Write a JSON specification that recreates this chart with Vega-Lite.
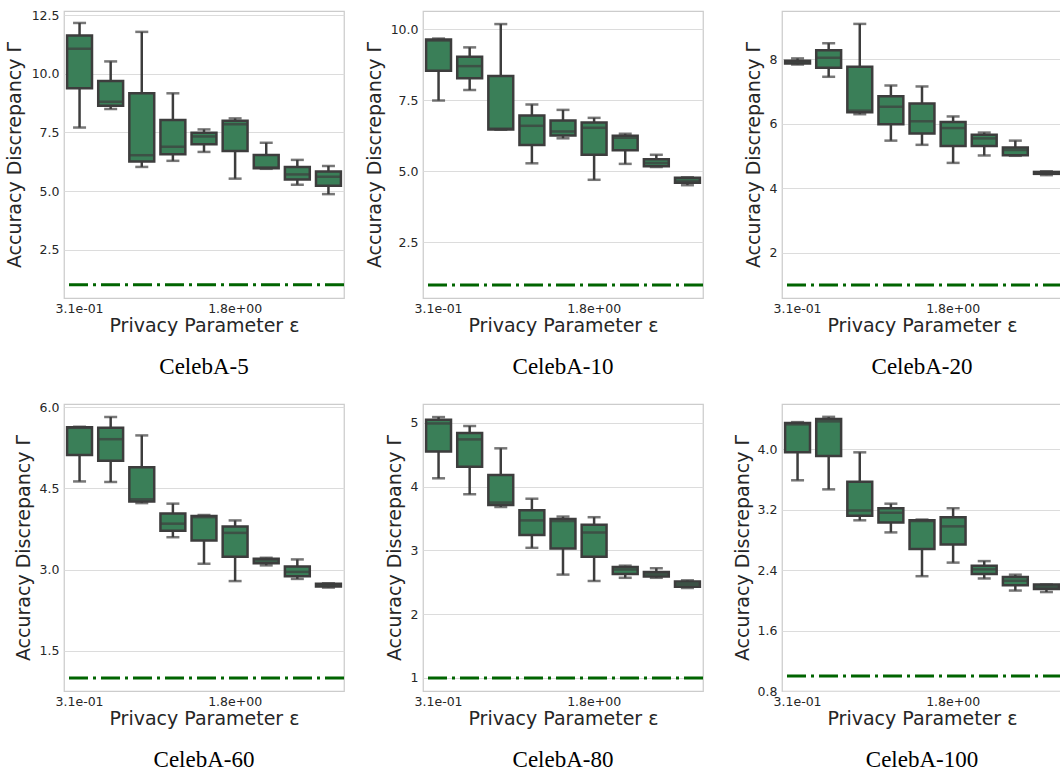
{
  "$schema": "https://vega.github.io/schema/vega-lite/v6.json",
  "padding": {"left": 4, "top": 8, "right": 0, "bottom": 5},
  "autosize": {"type": "pad"},
  "background": "white",
  "datasets": {
    "boxes": [
      {"panel": "CelebA-5", "eps": "3.1e-01", "lower": 7.71, "q1": 9.39, "median": 11.07, "q3": 11.63, "upper": 12.17},
      {"panel": "CelebA-5", "eps": "4.4e-01", "lower": 8.50, "q1": 8.64, "median": 8.81, "q3": 9.69, "upper": 10.53},
      {"panel": "CelebA-5", "eps": "6.3e-01", "lower": 6.03, "q1": 6.26, "median": 6.53, "q3": 9.17, "upper": 11.79},
      {"panel": "CelebA-5", "eps": "8.9e-01", "lower": 6.29, "q1": 6.57, "median": 6.89, "q3": 8.03, "upper": 9.17},
      {"panel": "CelebA-5", "eps": "1.3e+00", "lower": 6.67, "q1": 7.00, "median": 7.33, "q3": 7.49, "upper": 7.63},
      {"panel": "CelebA-5", "eps": "1.8e+00", "lower": 5.53, "q1": 6.71, "median": 7.85, "q3": 8.00, "upper": 8.10},
      {"panel": "CelebA-5", "eps": "2.6e+00", "lower": 5.95, "q1": 5.97, "median": 6.01, "q3": 6.54, "upper": 7.06},
      {"panel": "CelebA-5", "eps": "3.6e+00", "lower": 5.27, "q1": 5.49, "median": 5.71, "q3": 6.03, "upper": 6.33},
      {"panel": "CelebA-5", "eps": "5.2e+00", "lower": 4.87, "q1": 5.23, "median": 5.61, "q3": 5.83, "upper": 6.07},

      {"panel": "CelebA-10", "eps": "3.1e-01", "lower": 7.49, "q1": 8.54, "median": 9.60, "q3": 9.64, "upper": 9.67},
      {"panel": "CelebA-10", "eps": "4.4e-01", "lower": 7.86, "q1": 8.27, "median": 8.70, "q3": 9.03, "upper": 9.36},
      {"panel": "CelebA-10", "eps": "6.3e-01", "lower": 6.46, "q1": 6.47, "median": 6.50, "q3": 8.35, "upper": 10.18},
      {"panel": "CelebA-10", "eps": "8.9e-01", "lower": 5.28, "q1": 5.92, "median": 6.60, "q3": 6.96, "upper": 7.35},
      {"panel": "CelebA-10", "eps": "1.3e+00", "lower": 6.16, "q1": 6.26, "median": 6.40, "q3": 6.79, "upper": 7.16},
      {"panel": "CelebA-10", "eps": "1.8e+00", "lower": 4.70, "q1": 5.58, "median": 6.53, "q3": 6.72, "upper": 6.88},
      {"panel": "CelebA-10", "eps": "2.6e+00", "lower": 5.26, "q1": 5.74, "median": 6.18, "q3": 6.25, "upper": 6.32},
      {"panel": "CelebA-10", "eps": "3.6e+00", "lower": 5.15, "q1": 5.18, "median": 5.29, "q3": 5.42, "upper": 5.58},
      {"panel": "CelebA-10", "eps": "5.2e+00", "lower": 4.51, "q1": 4.60, "median": 4.67, "q3": 4.77, "upper": 4.79},

      {"panel": "CelebA-20", "eps": "3.1e-01", "lower": 7.84, "q1": 7.87, "median": 7.91, "q3": 7.96, "upper": 8.03},
      {"panel": "CelebA-20", "eps": "4.4e-01", "lower": 7.46, "q1": 7.74, "median": 8.05, "q3": 8.28, "upper": 8.50},
      {"panel": "CelebA-20", "eps": "6.3e-01", "lower": 6.30, "q1": 6.36, "median": 6.41, "q3": 7.77, "upper": 9.10},
      {"panel": "CelebA-20", "eps": "8.9e-01", "lower": 5.48, "q1": 5.99, "median": 6.53, "q3": 6.86, "upper": 7.19},
      {"panel": "CelebA-20", "eps": "1.3e+00", "lower": 5.35, "q1": 5.70, "median": 6.08, "q3": 6.63, "upper": 7.16},
      {"panel": "CelebA-20", "eps": "1.8e+00", "lower": 4.79, "q1": 5.31, "median": 5.87, "q3": 6.06, "upper": 6.23},
      {"panel": "CelebA-20", "eps": "2.6e+00", "lower": 5.02, "q1": 5.31, "median": 5.55, "q3": 5.66, "upper": 5.73},
      {"panel": "CelebA-20", "eps": "3.6e+00", "lower": 5.01, "q1": 5.03, "median": 5.19, "q3": 5.27, "upper": 5.48},
      {"panel": "CelebA-20", "eps": "5.2e+00", "lower": 4.41, "q1": 4.45, "median": 4.48, "q3": 4.51, "upper": 4.53},

      {"panel": "CelebA-60", "eps": "3.1e-01", "lower": 4.63, "q1": 5.12, "median": 5.62, "q3": 5.63, "upper": 5.64},
      {"panel": "CelebA-60", "eps": "4.4e-01", "lower": 4.62, "q1": 5.01, "median": 5.41, "q3": 5.62, "upper": 5.82},
      {"panel": "CelebA-60", "eps": "6.3e-01", "lower": 4.23, "q1": 4.26, "median": 4.30, "q3": 4.89, "upper": 5.48},
      {"panel": "CelebA-60", "eps": "8.9e-01", "lower": 3.60, "q1": 3.72, "median": 3.85, "q3": 4.04, "upper": 4.22},
      {"panel": "CelebA-60", "eps": "1.3e+00", "lower": 3.11, "q1": 3.54, "median": 3.97, "q3": 3.99, "upper": 4.01},
      {"panel": "CelebA-60", "eps": "1.8e+00", "lower": 2.79, "q1": 3.24, "median": 3.68, "q3": 3.80, "upper": 3.91},
      {"panel": "CelebA-60", "eps": "2.6e+00", "lower": 3.08, "q1": 3.12, "median": 3.17, "q3": 3.20, "upper": 3.22},
      {"panel": "CelebA-60", "eps": "3.6e+00", "lower": 2.83, "q1": 2.88, "median": 2.96, "q3": 3.06, "upper": 3.19},
      {"panel": "CelebA-60", "eps": "5.2e+00", "lower": 2.67, "q1": 2.69, "median": 2.72, "q3": 2.74, "upper": 2.75},

      {"panel": "CelebA-80", "eps": "3.1e-01", "lower": 4.13, "q1": 4.55, "median": 4.99, "q3": 5.05, "upper": 5.09},
      {"panel": "CelebA-80", "eps": "4.4e-01", "lower": 3.88, "q1": 4.31, "median": 4.74, "q3": 4.84, "upper": 4.95},
      {"panel": "CelebA-80", "eps": "6.3e-01", "lower": 3.68, "q1": 3.71, "median": 3.75, "q3": 4.18, "upper": 4.60},
      {"panel": "CelebA-80", "eps": "8.9e-01", "lower": 3.04, "q1": 3.24, "median": 3.47, "q3": 3.63, "upper": 3.81},
      {"panel": "CelebA-80", "eps": "1.3e+00", "lower": 2.62, "q1": 3.03, "median": 3.46, "q3": 3.49, "upper": 3.53},
      {"panel": "CelebA-80", "eps": "1.8e+00", "lower": 2.52, "q1": 2.90, "median": 3.28, "q3": 3.40, "upper": 3.52},
      {"panel": "CelebA-80", "eps": "2.6e+00", "lower": 2.57, "q1": 2.63, "median": 2.70, "q3": 2.74, "upper": 2.76},
      {"panel": "CelebA-80", "eps": "3.6e+00", "lower": 2.57, "q1": 2.59, "median": 2.63, "q3": 2.66, "upper": 2.72},
      {"panel": "CelebA-80", "eps": "5.2e+00", "lower": 2.41, "q1": 2.43, "median": 2.47, "q3": 2.51, "upper": 2.53},

      {"panel": "CelebA-100", "eps": "3.1e-01", "lower": 3.59, "q1": 3.96, "median": 4.33, "q3": 4.35, "upper": 4.36},
      {"panel": "CelebA-100", "eps": "4.4e-01", "lower": 3.47, "q1": 3.91, "median": 4.37, "q3": 4.40, "upper": 4.43},
      {"panel": "CelebA-100", "eps": "6.3e-01", "lower": 3.06, "q1": 3.12, "median": 3.19, "q3": 3.57, "upper": 3.96},
      {"panel": "CelebA-100", "eps": "8.9e-01", "lower": 2.90, "q1": 3.03, "median": 3.16, "q3": 3.22, "upper": 3.28},
      {"panel": "CelebA-100", "eps": "1.3e+00", "lower": 2.32, "q1": 2.68, "median": 3.05, "q3": 3.06, "upper": 3.07},
      {"panel": "CelebA-100", "eps": "1.8e+00", "lower": 2.50, "q1": 2.74, "median": 2.98, "q3": 3.10, "upper": 3.22},
      {"panel": "CelebA-100", "eps": "2.6e+00", "lower": 2.29, "q1": 2.35, "median": 2.41, "q3": 2.46, "upper": 2.52},
      {"panel": "CelebA-100", "eps": "3.6e+00", "lower": 2.13, "q1": 2.20, "median": 2.26, "q3": 2.31, "upper": 2.34},
      {"panel": "CelebA-100", "eps": "5.2e+00", "lower": 2.11, "q1": 2.15, "median": 2.18, "q3": 2.21, "upper": 2.21}
    ],
    "reference": [{"ref": 1}]
  },
  "columns": 3,
  "spacing": {"row": 106, "column": 79},
  "bounds": "flush",
  "concat": [
    {
      "width": 280, "height": 287,
      "title": {"text": "CelebA-5", "orient": "bottom"},
      "layer": [
        {
          "data": {"name": "boxes"},
          "transform": [{"filter": "datum.panel === 'CelebA-5'"}],
          "encoding": {
            "x": {"field": "eps", "type": "nominal", "sort": null, "title": "Privacy Parameter ε",
                  "scale": {"paddingInner": 0, "paddingOuter": 0},
                  "axis": {"values": ["3.1e-01", "1.8e+00"]}}
          },
          "layer": [
            {"mark": {"type": "rule", "color": "#3d3d3d", "strokeWidth": 2.5},
             "encoding": {"y": {"field": "lower", "type": "quantitative", "title": "Accuracy Discrepancy Γ",
                                "scale": {"domain": [0.44, 12.68], "zero": false, "nice": false},
                                "axis": {"values": [2.5, 5, 7.5, 10, 12.5], "format": ".1f", "minExtent": 36, "maxExtent": 36}},
                          "y2": {"field": "upper"}}},
            {"mark": {"type": "bar", "fill": "#3a7f58", "stroke": "#3d3d3d", "strokeWidth": 2.5, "width": {"band": 0.8}},
             "encoding": {"y": {"field": "q1", "type": "quantitative", "title": "Accuracy Discrepancy Γ"}, "y2": {"field": "q3"}}},
            {"mark": {"type": "tick", "color": "#3d3d3d", "size": 25, "thickness": 2.5},
             "encoding": {"y": {"field": "median", "type": "quantitative", "title": "Accuracy Discrepancy Γ"}}},
            {"mark": {"type": "tick", "color": "#3d3d3d", "size": 13, "thickness": 2.5},
             "encoding": {"y": {"field": "lower", "type": "quantitative", "title": "Accuracy Discrepancy Γ"}}},
            {"mark": {"type": "tick", "color": "#3d3d3d", "size": 13, "thickness": 2.5},
             "encoding": {"y": {"field": "upper", "type": "quantitative", "title": "Accuracy Discrepancy Γ"}}}
          ]
        },
        {
          "data": {"name": "reference"},
          "mark": {"type": "rule", "color": "#006400", "strokeWidth": 3, "strokeDash": [19, 5, 3, 5]},
          "encoding": {"y": {"field": "ref", "type": "quantitative", "title": "Accuracy Discrepancy Γ"}}
        }
      ]
    },
    {
      "width": 280, "height": 287,
      "title": {"text": "CelebA-10", "orient": "bottom"},
      "layer": [
        {
          "data": {"name": "boxes"},
          "transform": [{"filter": "datum.panel === 'CelebA-10'"}],
          "encoding": {
            "x": {"field": "eps", "type": "nominal", "sort": null, "title": "Privacy Parameter ε",
                  "scale": {"paddingInner": 0, "paddingOuter": 0},
                  "axis": {"values": ["3.1e-01", "1.8e+00"]}}
          },
          "layer": [
            {"mark": {"type": "rule", "color": "#3d3d3d", "strokeWidth": 2.5},
             "encoding": {"y": {"field": "lower", "type": "quantitative", "title": "Accuracy Discrepancy Γ",
                                "scale": {"domain": [0.54, 10.64], "zero": false, "nice": false},
                                "axis": {"values": [2.5, 5, 7.5, 10], "format": ".1f", "minExtent": 35, "maxExtent": 35}},
                          "y2": {"field": "upper"}}},
            {"mark": {"type": "bar", "fill": "#3a7f58", "stroke": "#3d3d3d", "strokeWidth": 2.5, "width": {"band": 0.8}},
             "encoding": {"y": {"field": "q1", "type": "quantitative", "title": "Accuracy Discrepancy Γ"}, "y2": {"field": "q3"}}},
            {"mark": {"type": "tick", "color": "#3d3d3d", "size": 25, "thickness": 2.5},
             "encoding": {"y": {"field": "median", "type": "quantitative", "title": "Accuracy Discrepancy Γ"}}},
            {"mark": {"type": "tick", "color": "#3d3d3d", "size": 13, "thickness": 2.5},
             "encoding": {"y": {"field": "lower", "type": "quantitative", "title": "Accuracy Discrepancy Γ"}}},
            {"mark": {"type": "tick", "color": "#3d3d3d", "size": 13, "thickness": 2.5},
             "encoding": {"y": {"field": "upper", "type": "quantitative", "title": "Accuracy Discrepancy Γ"}}}
          ]
        },
        {
          "data": {"name": "reference"},
          "mark": {"type": "rule", "color": "#006400", "strokeWidth": 3, "strokeDash": [19, 5, 3, 5]},
          "encoding": {"y": {"field": "ref", "type": "quantitative", "title": "Accuracy Discrepancy Γ"}}
        }
      ]
    },
    {
      "width": 280, "height": 287,
      "title": {"text": "CelebA-20", "orient": "bottom"},
      "layer": [
        {
          "data": {"name": "boxes"},
          "transform": [{"filter": "datum.panel === 'CelebA-20'"}],
          "encoding": {
            "x": {"field": "eps", "type": "nominal", "sort": null, "title": "Privacy Parameter ε",
                  "scale": {"paddingInner": 0, "paddingOuter": 0},
                  "axis": {"values": ["3.1e-01", "1.8e+00"]}}
          },
          "layer": [
            {"mark": {"type": "rule", "color": "#3d3d3d", "strokeWidth": 2.5},
             "encoding": {"y": {"field": "lower", "type": "quantitative", "title": "Accuracy Discrepancy Γ",
                                "scale": {"domain": [0.6, 9.5], "zero": false, "nice": false},
                                "axis": {"values": [2, 4, 6, 8], "format": "d", "minExtent": 15, "maxExtent": 15}},
                          "y2": {"field": "upper"}}},
            {"mark": {"type": "bar", "fill": "#3a7f58", "stroke": "#3d3d3d", "strokeWidth": 2.5, "width": {"band": 0.8}},
             "encoding": {"y": {"field": "q1", "type": "quantitative", "title": "Accuracy Discrepancy Γ"}, "y2": {"field": "q3"}}},
            {"mark": {"type": "tick", "color": "#3d3d3d", "size": 25, "thickness": 2.5},
             "encoding": {"y": {"field": "median", "type": "quantitative", "title": "Accuracy Discrepancy Γ"}}},
            {"mark": {"type": "tick", "color": "#3d3d3d", "size": 13, "thickness": 2.5},
             "encoding": {"y": {"field": "lower", "type": "quantitative", "title": "Accuracy Discrepancy Γ"}}},
            {"mark": {"type": "tick", "color": "#3d3d3d", "size": 13, "thickness": 2.5},
             "encoding": {"y": {"field": "upper", "type": "quantitative", "title": "Accuracy Discrepancy Γ"}}}
          ]
        },
        {
          "data": {"name": "reference"},
          "mark": {"type": "rule", "color": "#006400", "strokeWidth": 3, "strokeDash": [19, 5, 3, 5]},
          "encoding": {"y": {"field": "ref", "type": "quantitative", "title": "Accuracy Discrepancy Γ"}}
        }
      ]
    },
    {
      "width": 280, "height": 287,
      "title": {"text": "CelebA-60", "orient": "bottom"},
      "layer": [
        {
          "data": {"name": "boxes"},
          "transform": [{"filter": "datum.panel === 'CelebA-60'"}],
          "encoding": {
            "x": {"field": "eps", "type": "nominal", "sort": null, "title": "Privacy Parameter ε",
                  "scale": {"paddingInner": 0, "paddingOuter": 0},
                  "axis": {"values": ["3.1e-01", "1.8e+00"]}}
          },
          "layer": [
            {"mark": {"type": "rule", "color": "#3d3d3d", "strokeWidth": 2.5},
             "encoding": {"y": {"field": "lower", "type": "quantitative", "title": "Accuracy Discrepancy Γ",
                                "scale": {"domain": [0.76, 6.06], "zero": false, "nice": false},
                                "axis": {"values": [1.5, 3, 4.5, 6], "format": ".1f", "minExtent": 27, "maxExtent": 27}},
                          "y2": {"field": "upper"}}},
            {"mark": {"type": "bar", "fill": "#3a7f58", "stroke": "#3d3d3d", "strokeWidth": 2.5, "width": {"band": 0.8}},
             "encoding": {"y": {"field": "q1", "type": "quantitative", "title": "Accuracy Discrepancy Γ"}, "y2": {"field": "q3"}}},
            {"mark": {"type": "tick", "color": "#3d3d3d", "size": 25, "thickness": 2.5},
             "encoding": {"y": {"field": "median", "type": "quantitative", "title": "Accuracy Discrepancy Γ"}}},
            {"mark": {"type": "tick", "color": "#3d3d3d", "size": 13, "thickness": 2.5},
             "encoding": {"y": {"field": "lower", "type": "quantitative", "title": "Accuracy Discrepancy Γ"}}},
            {"mark": {"type": "tick", "color": "#3d3d3d", "size": 13, "thickness": 2.5},
             "encoding": {"y": {"field": "upper", "type": "quantitative", "title": "Accuracy Discrepancy Γ"}}}
          ]
        },
        {
          "data": {"name": "reference"},
          "mark": {"type": "rule", "color": "#006400", "strokeWidth": 3, "strokeDash": [19, 5, 3, 5]},
          "encoding": {"y": {"field": "ref", "type": "quantitative", "title": "Accuracy Discrepancy Γ"}}
        }
      ]
    },
    {
      "width": 280, "height": 287,
      "title": {"text": "CelebA-80", "orient": "bottom"},
      "layer": [
        {
          "data": {"name": "boxes"},
          "transform": [{"filter": "datum.panel === 'CelebA-80'"}],
          "encoding": {
            "x": {"field": "eps", "type": "nominal", "sort": null, "title": "Privacy Parameter ε",
                  "scale": {"paddingInner": 0, "paddingOuter": 0},
                  "axis": {"values": ["3.1e-01", "1.8e+00"]}}
          },
          "layer": [
            {"mark": {"type": "rule", "color": "#3d3d3d", "strokeWidth": 2.5},
             "encoding": {"y": {"field": "lower", "type": "quantitative", "title": "Accuracy Discrepancy Γ",
                                "scale": {"domain": [0.795, 5.295], "zero": false, "nice": false},
                                "axis": {"values": [1, 2, 3, 4, 5], "format": "d", "minExtent": 15, "maxExtent": 15}},
                          "y2": {"field": "upper"}}},
            {"mark": {"type": "bar", "fill": "#3a7f58", "stroke": "#3d3d3d", "strokeWidth": 2.5, "width": {"band": 0.8}},
             "encoding": {"y": {"field": "q1", "type": "quantitative", "title": "Accuracy Discrepancy Γ"}, "y2": {"field": "q3"}}},
            {"mark": {"type": "tick", "color": "#3d3d3d", "size": 25, "thickness": 2.5},
             "encoding": {"y": {"field": "median", "type": "quantitative", "title": "Accuracy Discrepancy Γ"}}},
            {"mark": {"type": "tick", "color": "#3d3d3d", "size": 13, "thickness": 2.5},
             "encoding": {"y": {"field": "lower", "type": "quantitative", "title": "Accuracy Discrepancy Γ"}}},
            {"mark": {"type": "tick", "color": "#3d3d3d", "size": 13, "thickness": 2.5},
             "encoding": {"y": {"field": "upper", "type": "quantitative", "title": "Accuracy Discrepancy Γ"}}}
          ]
        },
        {
          "data": {"name": "reference"},
          "mark": {"type": "rule", "color": "#006400", "strokeWidth": 3, "strokeDash": [19, 5, 3, 5]},
          "encoding": {"y": {"field": "ref", "type": "quantitative", "title": "Accuracy Discrepancy Γ"}}
        }
      ]
    },
    {
      "width": 280, "height": 287,
      "title": {"text": "CelebA-100", "orient": "bottom"},
      "layer": [
        {
          "data": {"name": "boxes"},
          "transform": [{"filter": "datum.panel === 'CelebA-100'"}],
          "encoding": {
            "x": {"field": "eps", "type": "nominal", "sort": null, "title": "Privacy Parameter ε",
                  "scale": {"paddingInner": 0, "paddingOuter": 0},
                  "axis": {"values": ["3.1e-01", "1.8e+00"]}}
          },
          "layer": [
            {"mark": {"type": "rule", "color": "#3d3d3d", "strokeWidth": 2.5},
             "encoding": {"y": {"field": "lower", "type": "quantitative", "title": "Accuracy Discrepancy Γ",
                                "scale": {"domain": [0.8, 4.6], "zero": false, "nice": false},
                                "axis": {"values": [0.8, 1.6, 2.4, 3.2, 4.0], "format": ".1f", "minExtent": 26, "maxExtent": 26}},
                          "y2": {"field": "upper"}}},
            {"mark": {"type": "bar", "fill": "#3a7f58", "stroke": "#3d3d3d", "strokeWidth": 2.5, "width": {"band": 0.8}},
             "encoding": {"y": {"field": "q1", "type": "quantitative", "title": "Accuracy Discrepancy Γ"}, "y2": {"field": "q3"}}},
            {"mark": {"type": "tick", "color": "#3d3d3d", "size": 25, "thickness": 2.5},
             "encoding": {"y": {"field": "median", "type": "quantitative", "title": "Accuracy Discrepancy Γ"}}},
            {"mark": {"type": "tick", "color": "#3d3d3d", "size": 13, "thickness": 2.5},
             "encoding": {"y": {"field": "lower", "type": "quantitative", "title": "Accuracy Discrepancy Γ"}}},
            {"mark": {"type": "tick", "color": "#3d3d3d", "size": 13, "thickness": 2.5},
             "encoding": {"y": {"field": "upper", "type": "quantitative", "title": "Accuracy Discrepancy Γ"}}}
          ]
        },
        {
          "data": {"name": "reference"},
          "mark": {"type": "rule", "color": "#006400", "strokeWidth": 3, "strokeDash": [19, 5, 3, 5]},
          "encoding": {"y": {"field": "ref", "type": "quantitative", "title": "Accuracy Discrepancy Γ"}}
        }
      ]
    }
  ],
  "config": {
    "font": "DejaVu Sans",
    "view": {"stroke": "#cccccc", "strokeWidth": 1.25},
    "axis": {
      "domain": false, "ticks": false,
      "labelFont": "DejaVu Sans", "labelFontSize": 12.5, "labelColor": "#262626",
      "titleFont": "DejaVu Sans", "titleFontSize": 19, "titleFontWeight": "normal", "titleColor": "#262626",
      "gridColor": "#dcdcdc", "gridWidth": 1
    },
    "axisX": {"grid": false, "labelAngle": 0, "labelPadding": 4, "titlePadding": 2},
    "axisY": {"grid": true, "labelPadding": 5, "titlePadding": 4},
    "title": {"font": "Liberation Serif", "fontSize": 23, "fontWeight": "normal", "color": "#000000", "offset": 20, "anchor": "middle"}
  }
}
